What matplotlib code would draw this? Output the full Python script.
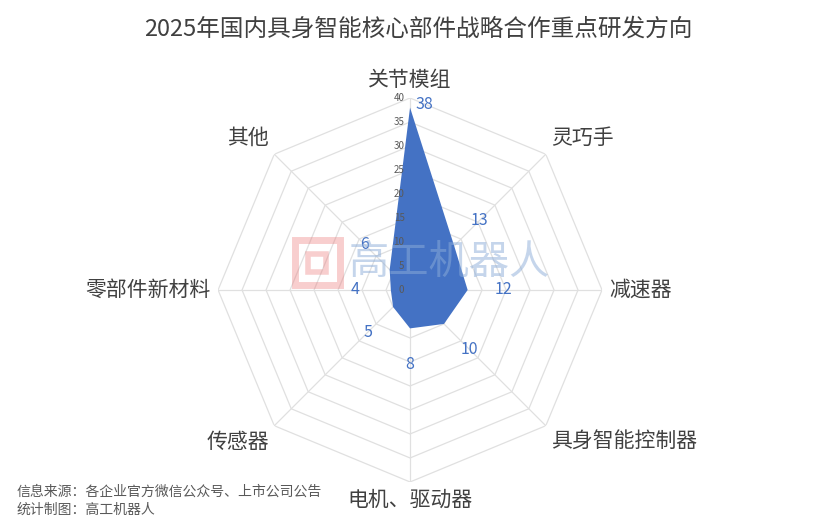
import numpy as np
import matplotlib.pyplot as plt
from matplotlib.patches import Rectangle

plt.rcParams['font.family'] = ['Noto Sans CJK SC', 'DejaVu Sans']

# data
categories = ["关节模组", "灵巧手", "减速器", "具身智能控制器", "电机、驱动器", "传感器", "零部件新材料", "其他"]
values = [38, 13, 12, 10, 8, 5, 4, 6]
ring_ticks = [0, 5, 10, 15, 20, 25, 30, 35, 40]

title = "2025年国内具身智能核心部件战略合作重点研发方向"
source_lines = ["信息来源：各企业官方微信公众号、上市公司公告", "统计制图：高工机器人"]

blue = "#4472C4"
grid_c = "#e0e0e0"
text_c = "#404040"

n = len(categories)
angles = np.linspace(0, 2 * np.pi, n, endpoint=False)

fig = plt.figure(figsize=(8.37, 5.26), dpi=100)
ax = fig.add_axes([0.2605, 0.0837, 0.4588, 0.730], projection="polar")
ax.set_theta_offset(np.pi / 2)
ax.set_theta_direction(-1)
ax.set_ylim(0, 40)
ax.grid(False)
ax.spines["polar"].set_visible(False)
ax.set_xticks([])
ax.set_yticks([])
ax.patch.set_alpha(0)

# octagon grid
closed = np.append(angles, angles[0])
for r in ring_ticks[1:]:
    ax.plot(closed, [r] * (n + 1), color=grid_c, lw=0.9, zorder=1)
for a in angles:
    ax.plot([a, a], [0, 40], color=grid_c, lw=0.9, zorder=1)

# filled series
ax.fill(closed, values + [values[0]], color=blue, lw=0, zorder=2)

# radial tick labels
for r in ring_ticks:
    ax.annotate(str(r), (0, r), xytext=(-4, 0), textcoords="offset points",
                ha="right", va="center", fontsize=7, color="#595959", zorder=4)

# data labels
for a, v in zip(angles, values):
    if v + 7.5 > 40:
        ax.annotate(str(v), (a, v), xytext=(4, 2), textcoords="offset points",
                    ha="left", va="center", fontsize=11.5, color=blue, zorder=4)
    else:
        ax.text(a, v + 7.5, str(v), ha="center", va="center", fontsize=11.5, color=blue, zorder=4)

# category labels
for a, lab in zip(angles, categories):
    s, c = np.sin(a), np.cos(a)
    ha = "center" if abs(s) < 0.1 else ("left" if s > 0 else "right")
    va = "center" if abs(c) < 0.1 else ("bottom" if c > 0 else "top")
    ax.text(a, 41.5, lab, ha=ha, va=va, fontsize=15, color=text_c)

# watermark
fig.text(0.5365, 0.502, "高工机器人", fontsize=29,
         color=(0.55, 0.68, 0.85), alpha=0.5, ha="center", va="center", zorder=10)
fig.patches.append(Rectangle((0.352, 0.458), 0.054, 0.085, transform=fig.transFigure,
                             fill=False, ec=(0.92, 0.45, 0.45), lw=5, alpha=0.35, zorder=10))
fig.patches.append(Rectangle((0.368, 0.483), 0.022, 0.035, transform=fig.transFigure,
                             fill=False, ec=(0.92, 0.45, 0.45), lw=4, alpha=0.35, zorder=10))

fig.suptitle(title, x=0.5, y=0.967, fontsize=17, color=text_c)

fig.text(0.02, 0.065, source_lines[0], fontsize=10, color="#595959", va="center")
fig.text(0.02, 0.030, source_lines[1], fontsize=10, color="#595959", va="center")

fig.savefig("out.png", dpi=100)
